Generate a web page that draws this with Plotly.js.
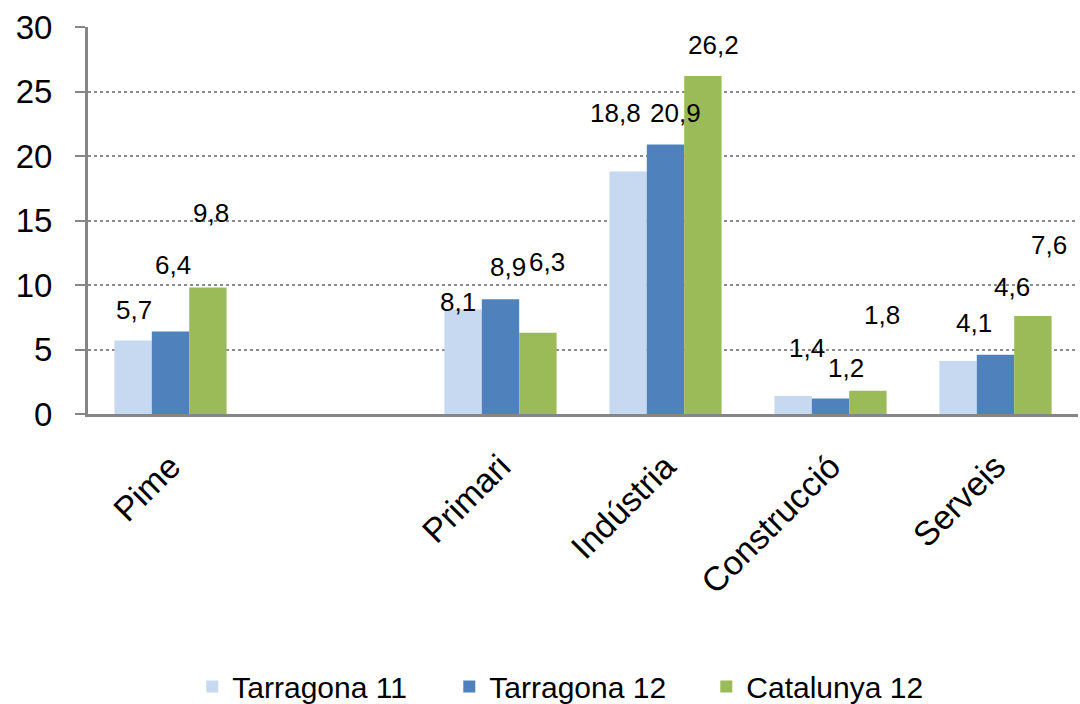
<!DOCTYPE html>
<html><head><meta charset="utf-8">
<script src="https://cdn.plot.ly/plotly-3.0.1.min.js"></script>
<style>html,body{margin:0;padding:0;background:#fff;}#chart{width:1080px;height:704px;}</style>
</head><body><div id="chart"></div>
<script>
const categories = ["Pime", " ", "Primari", "Indústria", "Construcció", "Serveis"];
const seriesNames = ["Tarragona 11", "Tarragona 12", "Catalunya 12"];
const tarragona11 = [5.7, null, 8.1, 18.8, 1.4, 4.1];
const tarragona12 = [6.4, null, 8.9, 20.9, 1.2, 4.6];
const catalunya12 = [9.8, null, 6.3, 26.2, 1.8, 7.6];
const yTicks = [0, 5, 10, 15, 20, 25, 30];

const colors = ["#C6D9F1", "#4F81BD", "#9BBB59"];
const allSeries = [tarragona11, tarragona12, catalunya12];

// label placement offsets (pixels) relative to bar top / bar center, mimicking the original
const labelLift = [
  [30, 66, 75], null, [8, 32, 71], [58, 31, 31], [48, 31, 76], [38, 68, 71]
];
const labelNudge = [
  [0, 2, 3], null, [-6, 7, 9], [-13, 10, 11], [13, 15, 14], [15, 16, 16]
];
const barStep = 37;

const fmt = v => v.toFixed(1).replace(".", ",");

const traces = allSeries.map((vals, i) => ({
  type: "bar", name: seriesNames[i], x: categories, y: vals,
  marker: {color: colors[i], line: {width: 0}},
  hoverinfo: "skip"
}));

const annotations = [];
categories.forEach((c, ci) => {
  if (!labelLift[ci]) return;
  allSeries.forEach((vals, si) => {
    if (vals[ci] == null) return;
    annotations.push({
      x: c, y: vals[ci], xref: "x", yref: "y",
      text: fmt(vals[ci]), showarrow: false,
      xshift: (si - 1) * barStep + labelNudge[ci][si],
      yshift: labelLift[ci][si],
      xanchor: "center", yanchor: "middle",
      font: {family: "Liberation Sans, Arial, sans-serif", size: 26, color: "#000"}
    });
  });
});

const layout = {
  width: 1080, height: 704,
  margin: {l: 88, r: 2, t: 27, b: 290},
  paper_bgcolor: "#fff", plot_bgcolor: "#fff",
  barmode: "group", bargap: 0.32, bargroupgap: 0,
  font: {family: "Liberation Sans, Arial, sans-serif", color: "#000"},
  showlegend: true,
  legend: {orientation: "h", xref: "container", yref: "container",
    x: 0.535, xanchor: "center", y: 0.025, yanchor: "middle",
    font: {size: 30}, itemwidth: 30, traceorder: "normal",
    entrywidth: 212, entrywidthmode: "pixels"},
  xaxis: {
    type: "category", categoryorder: "array", categoryarray: categories,
    tickangle: -45, tickfont: {size: 34}, ticklabelstandoff: 16,
    showline: true, linecolor: "#868686", linewidth: 3,
    ticks: "", showgrid: false, fixedrange: true
  },
  yaxis: {
    range: [0, 30], tickvals: yTicks, ticktext: yTicks.map(String),
    tickfont: {size: 33}, ticklabelstandoff: 16,
    showline: true, linecolor: "#868686", linewidth: 3,
    ticks: "outside", ticklen: 10, tickcolor: "#868686", tickwidth: 2,
    showgrid: true, gridcolor: "#8c8c8c", gridwidth: 2, griddash: "dot",
    zeroline: false, fixedrange: true
  },
  annotations: annotations
};

Plotly.newPlot("chart", traces, layout, {displayModeBar: false, staticPlot: true});
</script></body></html>
